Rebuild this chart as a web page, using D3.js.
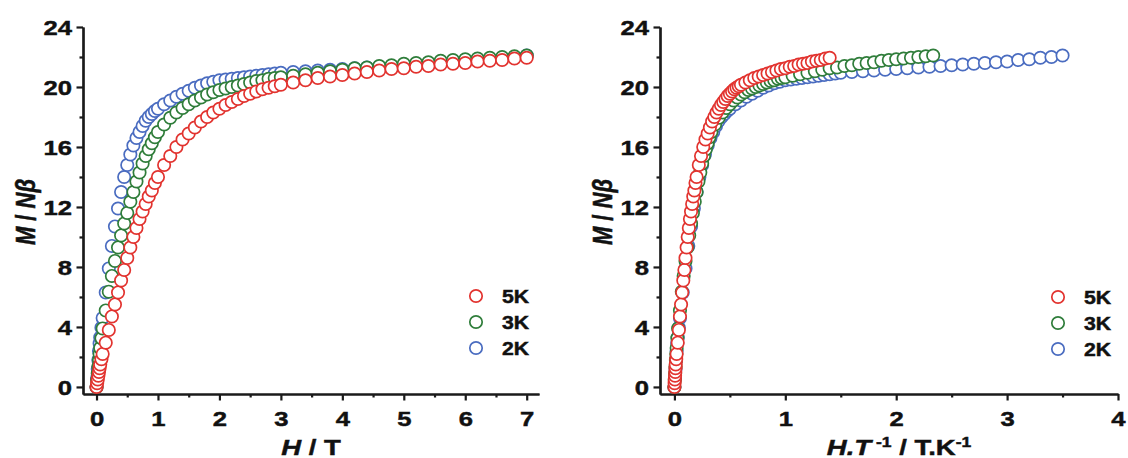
<html lang="en">
<head>
<meta charset="UTF-8">
<title>Magnetization</title>
<style>
  body { margin: 0; background: #fff; }
  text { font-family: "Liberation Sans", Arial, sans-serif; font-weight: bold; fill: #111; stroke: #111; stroke-width: 0.45px; }
</style>
</head>
<body>
<script src="https://d3js.org/d3.v7.min.js"></script>
<div id="my_dataviz"></div>
<script>

// field values (T), shared by all temperatures
var fieldH = [0, 0.01, 0.02, 0.03, 0.04, 0.05, 0.06, 0.08, 0.1,
  0.15, 0.2, 0.25, 0.3, 0.35, 0.4, 0.45, 0.5, 0.55, 0.6, 0.65, 0.7, 0.75, 0.8, 0.85, 0.9, 0.95, 1.0,
  1.1, 1.2, 1.3, 1.4, 1.5, 1.6, 1.7, 1.8, 1.9, 2.0, 2.1, 2.2, 2.3, 2.4, 2.5, 2.6, 2.7, 2.8, 2.9, 3.0,
  3.2, 3.4, 3.6, 3.8, 4.0, 4.2, 4.4, 4.6, 4.8, 5.0, 5.2, 5.4, 5.6, 5.8, 6.0, 6.2, 6.4, 6.6, 6.8, 7.0];

var m5K = [0, 0.25, 0.5, 0.75, 1.0, 1.25, 1.5, 1.85, 2.2,
  2.95, 3.8, 4.7, 5.5, 6.3, 7.1, 7.8, 8.6, 9.3, 10.0, 10.6, 11.2, 11.7, 12.2, 12.7, 13.1, 13.6, 14.0,
  14.8, 15.4, 16.0, 16.5, 16.9, 17.3, 17.7, 18.0, 18.3, 18.55, 18.8, 19.0, 19.2, 19.4, 19.55, 19.7, 19.85, 19.95, 20.05, 20.15,
  20.3, 20.45, 20.6, 20.7, 20.8, 20.9, 21.0, 21.1, 21.2, 21.25, 21.35, 21.4, 21.5, 21.55, 21.6, 21.7, 21.75, 21.8, 21.9, 21.95];

var m3K = [0, 0.45, 0.9, 1.35, 1.8, 2.2, 2.6, 3.25, 3.9,
  5.1, 6.35, 7.4, 8.4, 9.3, 10.1, 10.9, 11.6, 12.35, 13.0, 13.7, 14.3, 14.9, 15.4, 15.85, 16.25, 16.65, 17.0,
  17.5, 17.95, 18.3, 18.6, 18.85, 19.1, 19.3, 19.5, 19.65, 19.8, 19.9, 20.0, 20.1, 20.2, 20.3, 20.4, 20.45, 20.55, 20.6, 20.65,
  20.75, 20.85, 20.95, 21.05, 21.15, 21.25, 21.3, 21.4, 21.45, 21.55, 21.6, 21.65, 21.75, 21.8, 21.85, 21.9, 21.95, 22.0, 22.05, 22.1];

var m2K = [0, 0.6, 1.2, 1.8, 2.4, 2.9, 3.3, 3.95, 4.6,
  6.3, 7.9, 9.4, 10.7, 11.9, 13.0, 14.0, 14.8, 15.5, 16.1, 16.6, 17.0, 17.4, 17.75, 18.0, 18.2, 18.4, 18.55,
  18.85, 19.1, 19.35, 19.55, 19.75, 19.95, 20.1, 20.25, 20.35, 20.45, 20.5, 20.55, 20.6, 20.65, 20.7, 20.75, 20.8, 20.85, 20.9, 20.95,
  21.0, 21.05, 21.1, 21.15, 21.2, 21.25, 21.3, 21.35, 21.4, 21.45, 21.5, 21.55, 21.6, 21.65, 21.7, 21.8, 21.85, 21.95, 22.0, 22.1];

var seriesNames = ["5K", "3K", "2K"];
var temps = [5, 3, 2];
var seriesM = [m5K, m3K, m2K];
var colors = ["#e2332f", "#2f7d3a", "#4a6cc0"];

var yTicks = [0, 4, 8, 12, 16, 20, 24];
var yMinor = [2, 6, 10, 14, 18, 22];
var xTicksLeft = [0, 1, 2, 3, 4, 5, 6, 7];
var xTicksRight = [0, 1, 2, 3, 4];

var stretch = 1.25;   // the fonts in the picture are wide

var svg = d3.select("#my_dataviz")
  .append("svg")
    .attr("width", 1128)
    .attr("height", 458);

var y = d3.scaleLinear().domain([-0.47, 24]).range([394, 27]);

function panel(opts) {
  var x = d3.scaleLinear().domain(opts.xDomain).range(opts.xRange);
  var g = svg.append("g");
  var x0 = opts.xRange[0];

  // minor ticks
  g.append("g")
    .attr("transform", "translate(0,394)")
    .call(d3.axisBottom(x).tickValues(opts.xMinor).tickSize(3.5).tickSizeOuter(0).tickFormat(""));
  g.append("g")
    .attr("transform", "translate(" + x0 + ",0)")
    .call(d3.axisLeft(y).tickValues(yMinor).tickSize(3.5).tickSizeOuter(0).tickFormat(""));

  // major ticks
  var xa = g.append("g")
    .attr("transform", "translate(0,394)")
    .call(d3.axisBottom(x).tickValues(opts.xTicks).tickSize(6.5).tickSizeOuter(0).tickFormat(d3.format("d")));
  xa.selectAll("text")
    .attr("y", 17)
    .attr("dy", "0.71em")
    .attr("transform", "scale(" + stretch + ",1)");

  var ya = g.append("g")
    .attr("transform", "translate(" + x0 + ",0)")
    .call(d3.axisLeft(y).tickValues(yTicks).tickSize(6.5).tickSizeOuter(0));
  ya.selectAll("text")
    .attr("x", null)
    .attr("dy", "0.36em")
    .attr("transform", "translate(-11,0) scale(" + stretch + ",1)");

  g.selectAll(".domain, .tick line").attr("stroke", "#1a1a1a").attr("stroke-width", 2.2);
  g.selectAll(".tick text").style("font-size", "20.5px").style("font-family", "'Liberation Sans', Arial, sans-serif")
    .style("font-weight", "bold").attr("fill", "#111").attr("stroke", "#111").attr("stroke-width", 0.5);

  // points, blue first so red sits on top
  for (var s = seriesM.length - 1; s >= 0; s--) {
    var pts = fieldH.map(function(h, i) { return {x: opts.xOf(h, temps[s]), m: seriesM[s][i]}; });
    g.append("g").selectAll("circle")
      .data(pts)
      .enter()
      .append("circle")
        .attr("cx", function(d) { return x(d.x); })
        .attr("cy", function(d) { return y(d.m); })
        .attr("r", 6.2)
        .attr("fill", "#fff")
        .attr("stroke", colors[s])
        .attr("stroke-width", 1.7);
  }

  // legend
  seriesNames.forEach(function(name, i) {
    var ly = opts.legend[1] + i * 26;
    g.append("circle")
      .attr("cx", opts.legend[0]).attr("cy", ly).attr("r", 6.2)
      .attr("fill", "#fff").attr("stroke", colors[i]).attr("stroke-width", 1.7);
    g.append("text")
      .attr("transform", "translate(" + (opts.legend[0] + 26) + "," + (ly + 6.5) + ") scale(1.18,1)")
      .style("font-size", "18px")
      .text(name);
  });

  // y title
  var yt = g.append("text")
    .attr("transform", "translate(" + opts.yTitleX + ",212) scale(" + stretch + ",1) rotate(-90)")
    .attr("text-anchor", "middle")
    .attr("dy", "0.35em")
    .style("font-size", "22px");
  yt.append("tspan").style("font-style", "italic").text("M");
  yt.append("tspan").text(" / ");
  yt.append("tspan").style("font-style", "italic").text("N\u03B2");

  // x title
  var xt = g.append("text")
    .attr("transform", "translate(" + opts.xTitleX + ",455) scale(" + stretch + ",1)")
    .attr("text-anchor", "middle")
    .style("font-size", "22px");
  opts.xTitle(xt);
}

panel({
  xDomain: [-0.22, 7.2], xRange: [83, 539],
  xTicks: xTicksLeft, xMinor: [0.5, 1.5, 2.5, 3.5, 4.5, 5.5, 6.5],
  xOf: function(h, t) { return h; },
  legend: [476, 296], yTitleX: 25, xTitleX: 311,
  xTitle: function(t) {
    t.append("tspan").style("font-style", "italic").text("H");
    t.append("tspan").text(" / T");
  }
});

panel({
  xDomain: [-0.13, 4], xRange: [660, 1118],
  xTicks: xTicksRight, xMinor: [0.5, 1.5, 2.5, 3.5],
  xOf: function(h, t) { return h / t; },
  legend: [1058, 297], yTitleX: 602, xTitleX: 899,
  xTitle: function(t) {
    t.append("tspan").style("font-style", "italic").text("H.T");
    t.append("tspan").attr("dy", -8).style("font-size", "14px").text(" -1");
    t.append("tspan").attr("dy", 8).text(" / T.K");
    t.append("tspan").attr("dy", -8).style("font-size", "14px").text("-1");
  }
});

</script>
</body>
</html>
